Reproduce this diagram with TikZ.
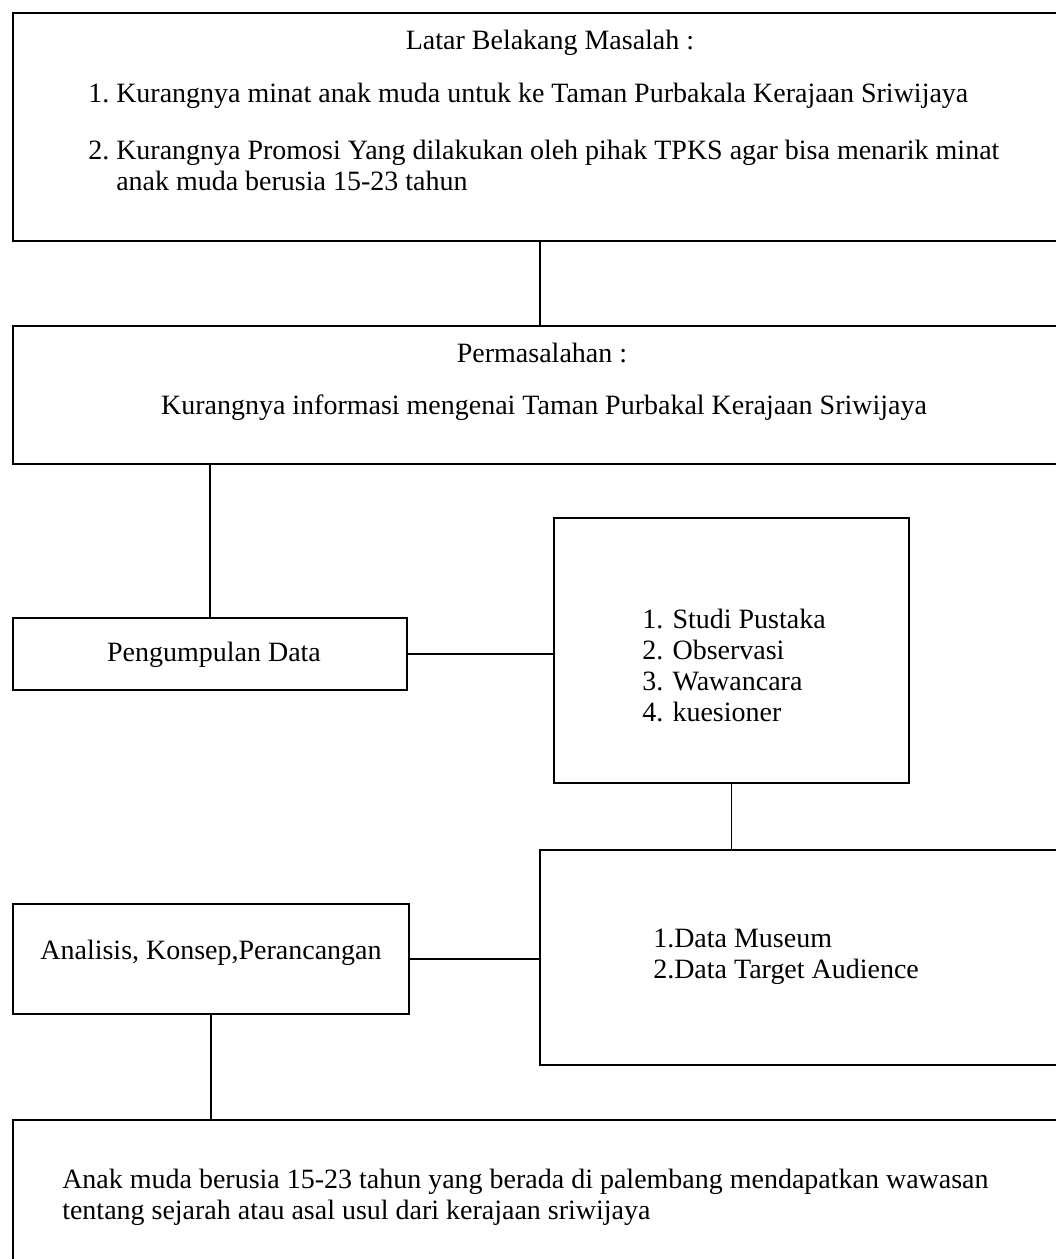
\documentclass[tikz,border=0pt]{standalone}
\usepackage{fontspec}
\setmainfont{Liberation Serif}

\begin{document}
\begin{tikzpicture}[
  x=0.025cm, y=-0.025cm,
  box/.style={
    draw,
    line width=1.3pt,
    anchor=north west,
    inner sep=0pt
  },
  label/.style={inner sep=0pt, font=\fontsize{19.9pt}{22pt}\selectfont, align=left},
  link/.style={line width=1.3pt}
]
  \clip (0,0) rectangle (1056,1259);
  % boxes
  \node[box,minimum width=26.35cm,minimum height=5.7cm] (masalah) at (12,12) {};
  \node[box,minimum width=26.35cm,minimum height=3.45cm] (permasalahan) at (12,325) {};
  \node[box,minimum width=9.85cm,minimum height=1.8cm] (pengumpulan) at (12,617) {};
  \node[box,minimum width=8.875cm,minimum height=6.625cm] (metode) at (553,517) {};
  \node[box,minimum width=15cm,minimum height=5.375cm] (data) at (539,849) {};
  \node[box,minimum width=9.9cm,minimum height=2.75cm] (analisis) at (12,903) {};
  \node[box,minimum width=27cm,minimum height=5cm] (hasil) at (12,1119) {};

  % texts
  \node[label,anchor=base] (masalahjudul) at (550,49) {Latar Belakang Masalah :};
  \node[label,anchor=base west] (masalahsatu) at (88,102)
    {1.~Kurangnya minat anak muda untuk ke Taman Purbakala Kerajaan Sriwijaya};
  \node[label,anchor=north west] (masalahdua) at (88,140)
    {2.~Kurangnya Promosi Yang dilakukan oleh pihak TPKS agar bisa menarik minat\\
     \phantom{2.~}anak muda berusia 15-23 tahun};
  \node[label,anchor=base] (permasalahanjudul) at (542,362) {Permasalahan :};
  \node[label,anchor=base] (permasalahanisi) at (544,414)
    {Kurangnya informasi mengenai Taman Purbakal Kerajaan Sriwijaya};
  \node[label,anchor=base] (pengumpulanisi) at (214,661) {Pengumpulan Data};
  \node[label,anchor=north west] (metodeisi) at (642,609)
    {1. Studi Pustaka\\2. Observasi\\3. Wawancara\\4. kuesioner};
  \node[label,anchor=north west] (dataisi) at (653,929)
    {1.Data Museum\\2.Data Target Audience};
  \node[label,anchor=base] (analisisisi) at (211,959) {Analisis, Konsep,Perancangan};
  \node[label,anchor=north west] (hasilisi) at (62,1169)
    {Anak muda berusia 15-23 tahun yang berada di palembang mendapatkan wawasan\\
     tentang sejarah atau asal usul dari kerajaan sriwijaya};

  % connectors
  \draw[link] (masalah.south) -- (permasalahan.north);
  \draw[link] (permasalahan.south -| pengumpulan.north) -- (pengumpulan.north);
  \draw[link] (pengumpulan.east) -- (pengumpulan.east -| metode.west);
  \draw[link] (metode.south) -- (metode.south |- data.north);
  \draw[link] (analisis.east) -- (analisis.east -| data.west);
  \draw[link] (analisis.south) -- (analisis.south |- hasil.north);
\end{tikzpicture}
\end{document}
